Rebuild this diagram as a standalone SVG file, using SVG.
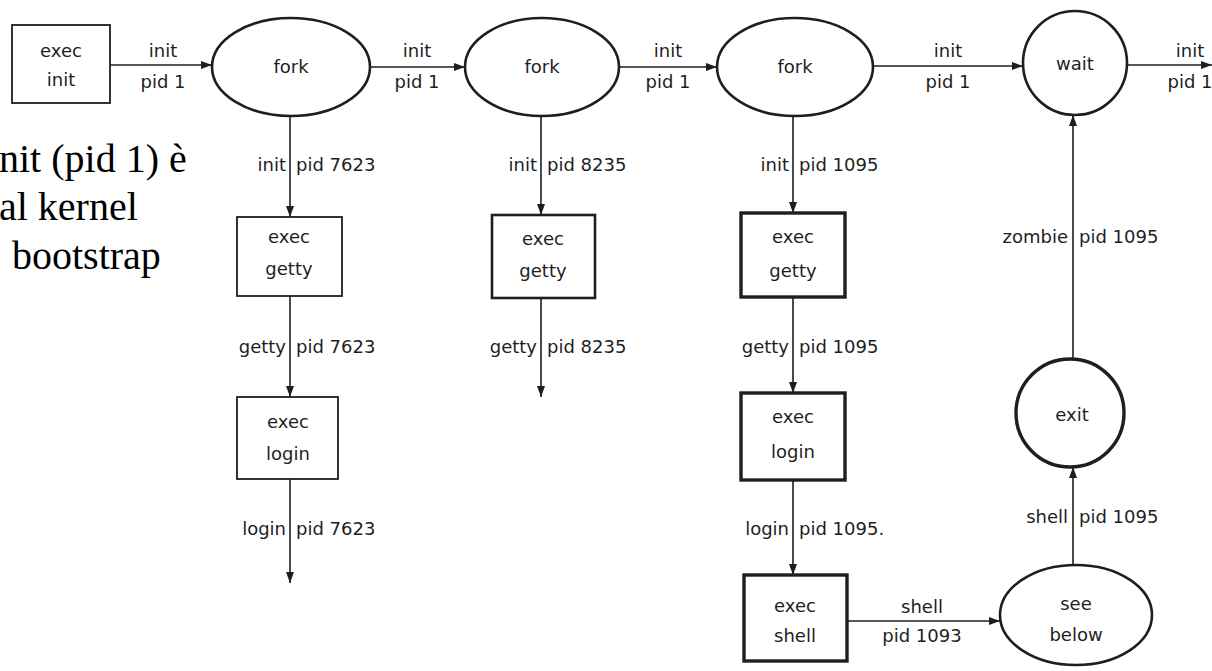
<svg xmlns="http://www.w3.org/2000/svg" width="1212" height="671" viewBox="0 0 1212 671">
<style>
.t{font-family:"DejaVu Sans",sans-serif;font-size:18px;fill:#1e1e1e}
.c{text-anchor:middle}
.r{text-anchor:end}
.big{font-family:"Liberation Serif","Times New Roman",serif;font-size:40px;fill:#000}
.n1{fill:#fff;stroke:#1e1e1e;stroke-width:1.8}
.n2{fill:#fff;stroke:#1e1e1e;stroke-width:2.6}
.n3{fill:#fff;stroke:#1e1e1e;stroke-width:3.4}
.e{fill:none;stroke:#1e1e1e;stroke-width:1.6;marker-end:url(#ah)}
</style>
<defs>
<marker id="ah" markerUnits="userSpaceOnUse" markerWidth="12" markerHeight="10" refX="11" refY="5" orient="auto">
<path d="M0,1 L11,5 L0,9 z" fill="#1e1e1e"/>
</marker>
</defs>
<rect width="1212" height="671" fill="#fff"/>

<g id="caption">
<text class="big" x="-1" y="172">nit (pid 1) è</text>
<text class="big" x="-1" y="220">al kernel</text>
<text class="big" x="12" y="269">bootstrap</text>
</g>

<g id="connectors">
<line class="e" x1="110" y1="65" x2="212" y2="65"/>
<line class="e" x1="370" y1="67" x2="465" y2="67"/>
<line class="e" x1="620" y1="67" x2="717" y2="67"/>
<line class="e" x1="873" y1="66" x2="1023" y2="66"/>
<line class="e" x1="1127" y1="65" x2="1212" y2="65"/>
<line class="e" x1="290" y1="116" x2="290" y2="217"/>
<line class="e" x1="290" y1="296" x2="290" y2="397"/>
<line class="e" x1="290" y1="479" x2="290" y2="583"/>
<line class="e" x1="541" y1="116" x2="541" y2="215"/>
<line class="e" x1="541" y1="298" x2="541" y2="397"/>
<line class="e" x1="793" y1="116" x2="793" y2="213"/>
<line class="e" x1="793" y1="297" x2="793" y2="393"/>
<line class="e" x1="793" y1="480" x2="793" y2="575"/>
<line class="e" x1="847" y1="621" x2="1000" y2="621"/>
<line class="e" x1="1073" y1="565" x2="1073" y2="467"/>
<line class="e" x1="1073" y1="358" x2="1073" y2="115"/>
<text class="t c" x="163" y="57">init</text>
<text class="t c" x="163" y="88">pid 1</text>
<text class="t c" x="417" y="57">init</text>
<text class="t c" x="417" y="88">pid 1</text>
<text class="t c" x="668" y="57">init</text>
<text class="t c" x="668" y="88">pid 1</text>
<text class="t c" x="948" y="57">init</text>
<text class="t c" x="948" y="88">pid 1</text>
<text class="t c" x="1190" y="57">init</text>
<text class="t c" x="1190" y="88">pid 1</text>
<text class="t r" x="286" y="171">init</text>
<text class="t" x="296" y="171">pid 7623</text>
<text class="t r" x="286" y="353">getty</text>
<text class="t" x="296" y="353">pid 7623</text>
<text class="t r" x="286" y="535">login</text>
<text class="t" x="296" y="535">pid 7623</text>
<text class="t r" x="537" y="171">init</text>
<text class="t" x="547" y="171">pid 8235</text>
<text class="t r" x="537" y="353">getty</text>
<text class="t" x="547" y="353">pid 8235</text>
<text class="t r" x="789" y="171">init</text>
<text class="t" x="799" y="171">pid 1095</text>
<text class="t r" x="789" y="353">getty</text>
<text class="t" x="799" y="353">pid 1095</text>
<text class="t r" x="789" y="535">login</text>
<text class="t" x="799" y="535">pid 1095.</text>
<text class="t c" x="922" y="613">shell</text>
<text class="t c" x="922" y="642">pid 1093</text>
<text class="t r" x="1068" y="523">shell</text>
<text class="t" x="1079" y="523">pid 1095</text>
<text class="t r" x="1068" y="243">zombie</text>
<text class="t" x="1079" y="243">pid 1095</text>
</g>

<g id="exec-init">
<rect class="n1" x="12" y="25" width="98" height="78"/>
<text class="t c" x="61" y="57">exec</text>
<text class="t c" x="61" y="86">init</text>
</g>
<g id="fork1">
<ellipse class="n2" cx="291" cy="67" rx="79" ry="49"/>
<text class="t c" x="291" y="73">fork</text>
</g>
<g id="fork2">
<ellipse class="n2" cx="542" cy="67" rx="77" ry="49"/>
<text class="t c" x="542" y="73">fork</text>
</g>
<g id="fork3">
<ellipse class="n2" cx="795" cy="67" rx="78" ry="49"/>
<text class="t c" x="795" y="73">fork</text>
</g>
<g id="wait">
<circle class="n2" cx="1075" cy="63" r="52"/>
<text class="t c" x="1075" y="70">wait</text>
</g>
<g id="exec-getty-1">
<rect class="n1" x="237" y="217" width="105" height="79"/>
<text class="t c" x="289" y="243">exec</text>
<text class="t c" x="289" y="275">getty</text>
</g>
<g id="exec-login-1">
<rect class="n1" x="237" y="397" width="101" height="82"/>
<text class="t c" x="288" y="428">exec</text>
<text class="t c" x="288" y="460">login</text>
</g>
<g id="exec-getty-2">
<rect class="n2" x="492" y="215" width="103" height="83"/>
<text class="t c" x="543" y="245">exec</text>
<text class="t c" x="543" y="277">getty</text>
</g>
<g id="exec-getty-3">
<rect class="n3" x="741" y="213" width="104" height="84"/>
<text class="t c" x="793" y="243">exec</text>
<text class="t c" x="793" y="277">getty</text>
</g>
<g id="exec-login-3">
<rect class="n3" x="741" y="393" width="104" height="87"/>
<text class="t c" x="793" y="423">exec</text>
<text class="t c" x="793" y="458">login</text>
</g>
<g id="exec-shell">
<rect class="n3" x="744" y="575" width="103" height="86"/>
<text class="t c" x="795" y="612">exec</text>
<text class="t c" x="795" y="642">shell</text>
</g>
<g id="see-below">
<ellipse class="n2" cx="1076" cy="615" rx="76" ry="50"/>
<text class="t c" x="1076" y="610">see</text>
<text class="t c" x="1076" y="641">below</text>
</g>
<g id="exit">
<circle class="n3" cx="1070" cy="413" r="54"/>
<text class="t c" x="1072" y="421">exit</text>
</g>
</svg>
